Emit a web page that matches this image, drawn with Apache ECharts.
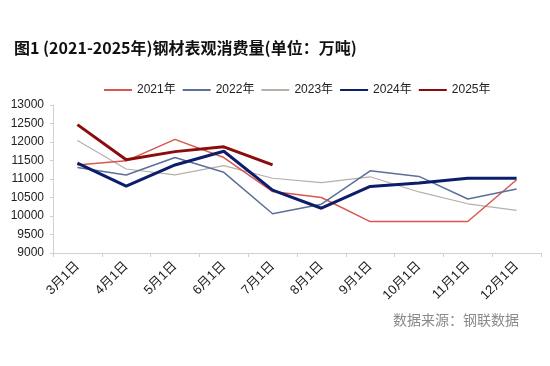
<!DOCTYPE html>
<html>
<head>
<meta charset="utf-8">
<script src="https://cdn.jsdelivr.net/npm/echarts@6/dist/echarts.min.js"></script>
<style>
html,body{margin:0;padding:0;background:#fff;}
#chart{width:550px;height:366px;}
</style>
</head>
<body>
<div id="chart"></div>
<script>
var categories = ['3月1日','4月1日','5月1日','6月1日','7月1日','8月1日','9月1日','10月1日','11月1日','12月1日'];
var s2021 = [11380, 11490, 12070, 11580, 10660, 10500, 9850, 9850, 9850, 10980];
var s2022 = [11310, 11110, 11580, 11180, 10060, 10320, 11220, 11070, 10460, 10730];
var s2023 = [12040, 11270, 11110, 11360, 11020, 10900, 11060, 10650, 10330, 10150];
var s2024 = [11430, 10810, 11380, 11750, 10700, 10210, 10800, 10890, 11020, 11020];
var s2025 = [12470, 11520, 11740, 11870, 11380, null, null, null, null, null];
var seriesNames = ['2021年','2022年','2023年','2024年','2025年'];

var chart = echarts.init(document.getElementById('chart'));
function mk(name, data, color, width, z) {
  return {
    name: name, type: 'line', data: data, symbol: 'none', z: z,
    lineStyle: { color: color, width: width },
    itemStyle: { color: color }
  };
}
chart.setOption({
  animation: false,
  backgroundColor: '#fff',
  title: {
    text: '图1 (2021-2025年)钢材表观消费量(单位：万吨)',
    left: 9, top: 35,
    textStyle: { fontSize: 16, fontWeight: 'bold', color: '#111', fontFamily: 'Noto Sans CJK SC' }
  },
  legend: {
    data: seriesNames,
    left: 99, top: 79,
    icon: 'rect', itemWidth: 28, itemHeight: 2, itemGap: 7,
    textStyle: { fontSize: 12, color: '#222', fontFamily: 'Liberation Sans, Noto Sans CJK SC' }
  },
  grid: { left: 53, right: 9, top: 105, bottom: 113 },
  xAxis: {
    type: 'category', data: categories, boundaryGap: true,
    axisLine: { lineStyle: { color: '#d0d0d0' } },
    axisTick: { show: true, length: 4, lineStyle: { color: '#d0d0d0' } },
    axisLabel: { rotate: 45, fontSize: 13, color: '#1a1a1a', margin: 11, fontFamily: 'Liberation Sans, Noto Sans CJK SC', interval: 0 }
  },
  yAxis: {
    type: 'value', min: 9000, max: 13000, interval: 500,
    axisLine: { show: true, lineStyle: { color: '#d0d0d0' } },
    axisTick: { show: true, length: 3, lineStyle: { color: '#d0d0d0' } },
    splitLine: { show: false },
    axisLabel: { fontSize: 12, color: '#222', margin: 9, fontFamily: 'Liberation Sans', formatter: function (v) { return String(v); } }
  },
  series: [
    mk('2021年', s2021, '#d9574e', 1.5, 2),
    mk('2022年', s2022, '#5c6f96', 1.5, 3),
    mk('2023年', s2023, '#b7afa8', 1.2, 1),
    mk('2024年', s2024, '#0c1d6b', 3, 4),
    mk('2025年', s2025, '#8c0c0c', 3, 5)
  ],
  graphic: [{
    type: 'text', left: 393, top: 313,
    style: { text: '数据来源：钢联数据', fontSize: 14, fill: '#8a8a8a', fontFamily: 'Noto Sans CJK SC' }
  }]
});
</script>
</body>
</html>
